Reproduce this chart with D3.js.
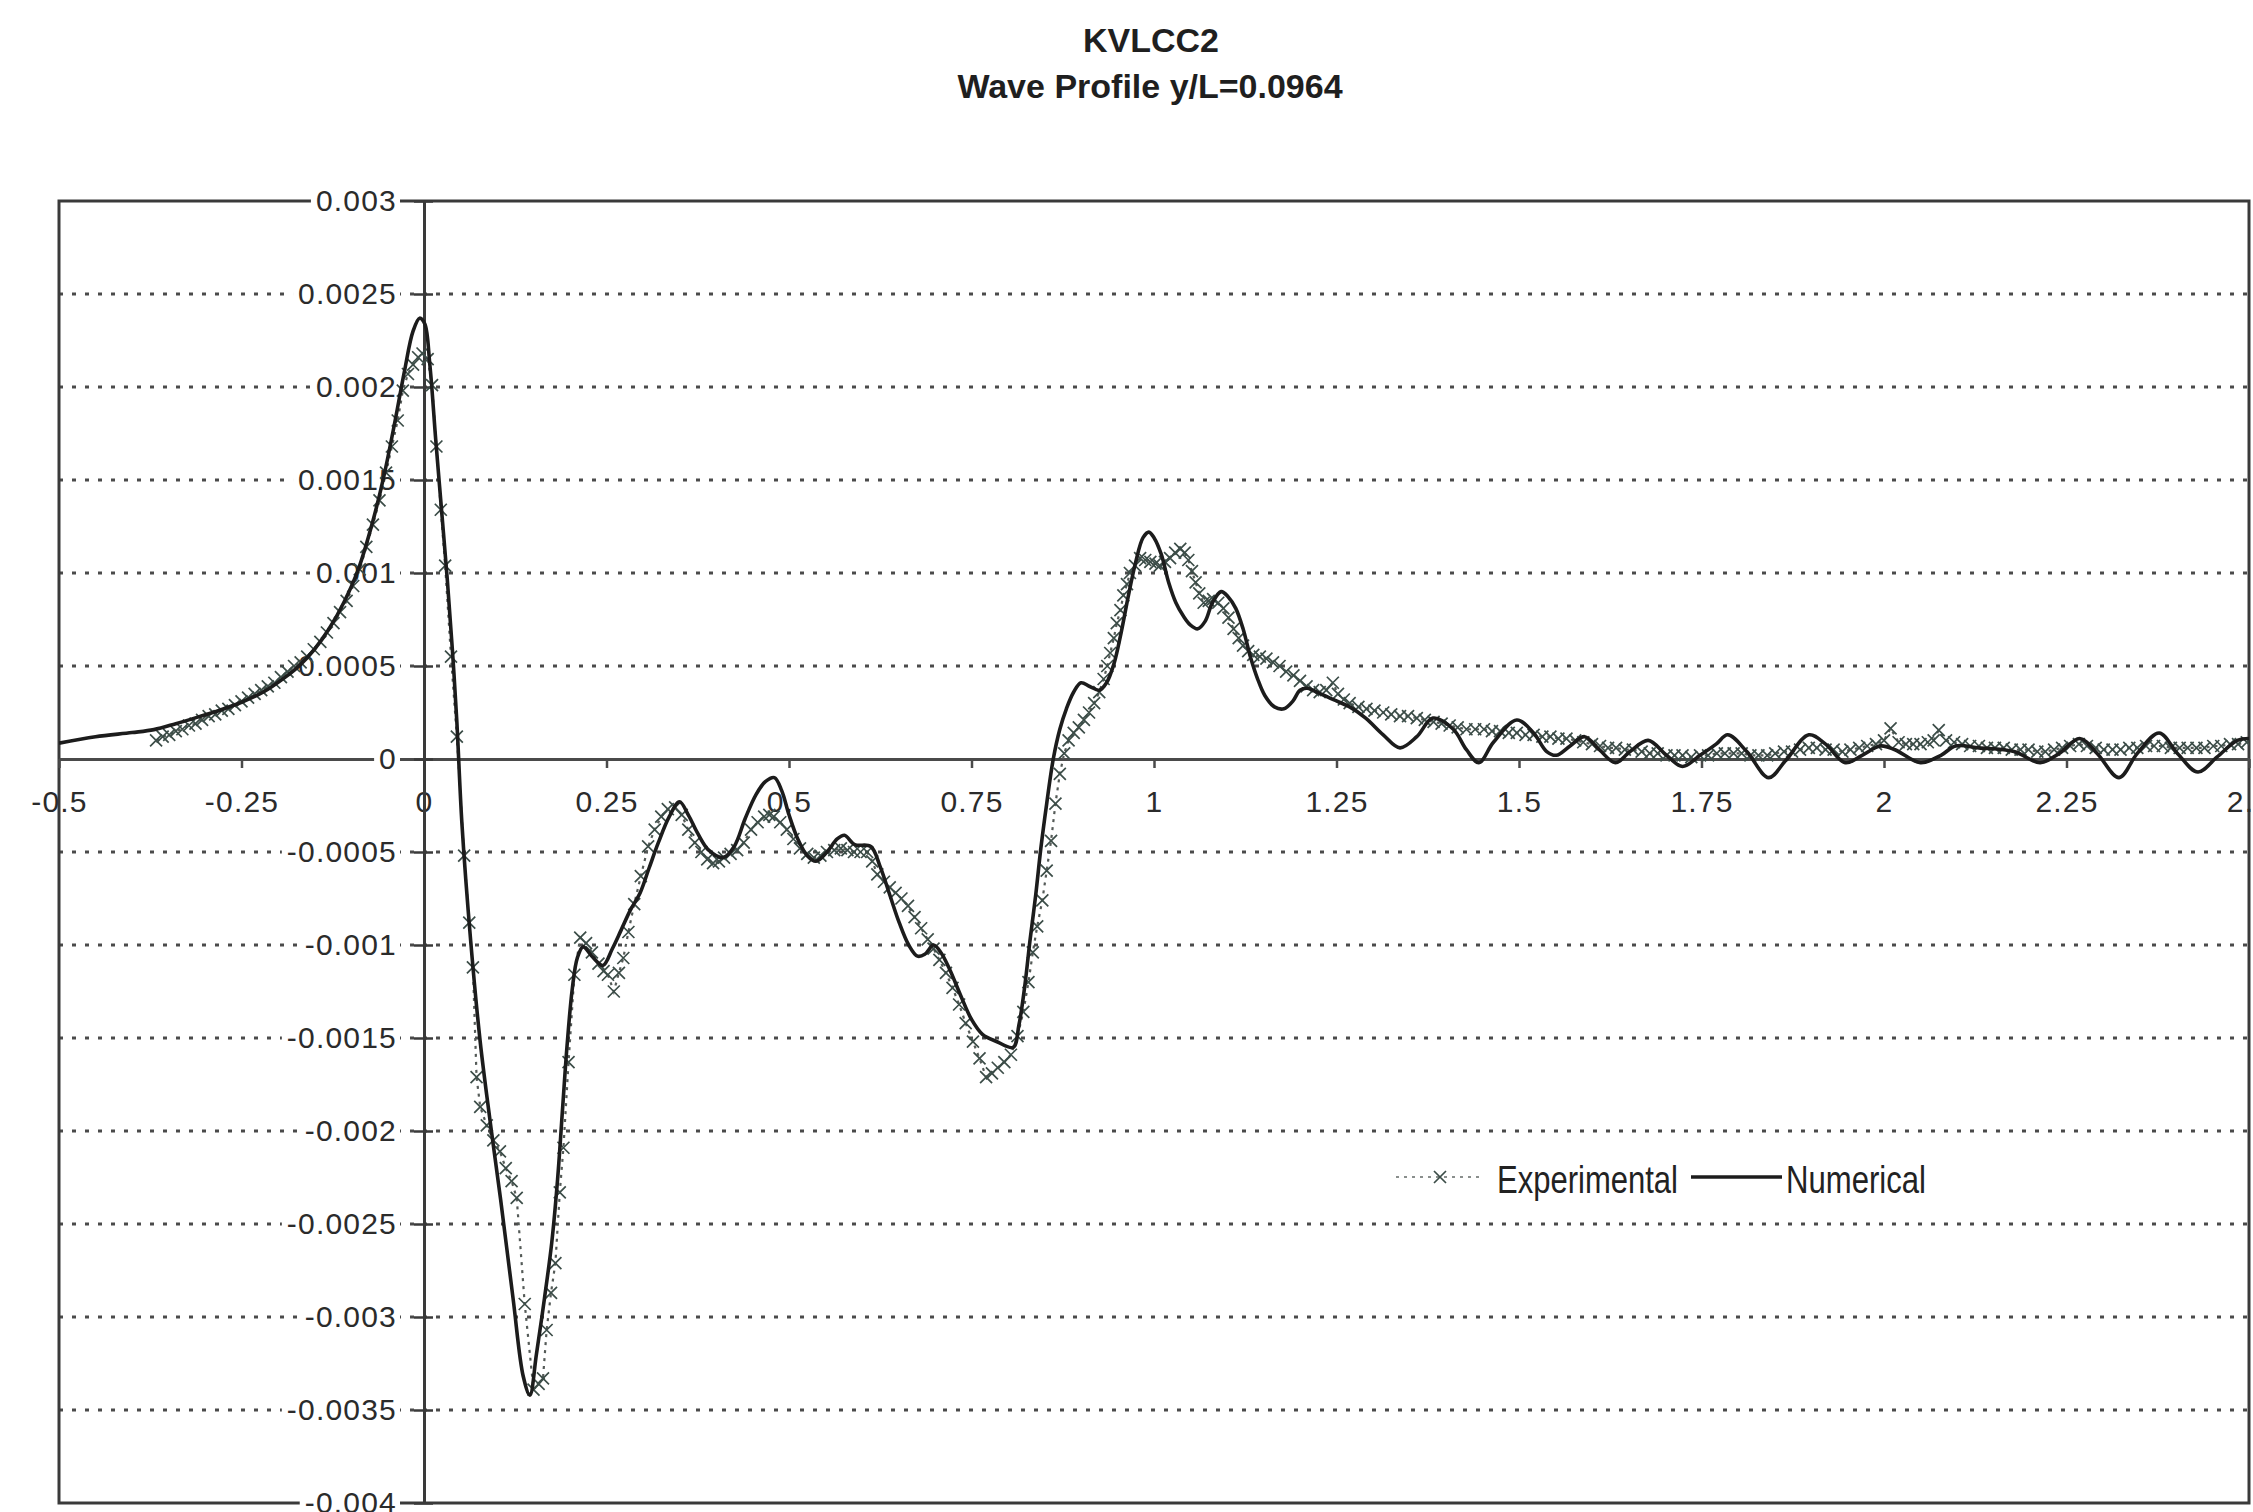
<!DOCTYPE html>
<html>
<head>
<meta charset="utf-8">
<script src="https://cdn.jsdelivr.net/npm/d3@7"></script>
<style>
  html, body { margin: 0; padding: 0; background: #ffffff; }
  svg { display: block; }
</style>
</head>
<body>
<svg id="chart" width="2253" height="1512"></svg>
<script>
// ---- chart text ----
const titleLines = ["KVLCC2", "Wave Profile y/L=0.0964"];
const seriesNames = ["Experimental", "Numerical"];

// ---- axis ticks ----
const xTicks = [-0.5, -0.25, 0, 0.25, 0.5, 0.75, 1, 1.25, 1.5, 1.75, 2, 2.25, 2.5];
const xTickLabels = ["-0.5", "-0.25", "0", "0.25", "0.5", "0.75", "1", "1.25", "1.5", "1.75", "2", "2.25", "2.5"];
const yTicks = [0.003, 0.0025, 0.002, 0.0015, 0.001, 0.0005, 0, -0.0005, -0.001, -0.0015, -0.002, -0.0025, -0.003, -0.0035, -0.004];
const yTickLabels = ["0.003", "0.0025", "0.002", "0.0015", "0.001", "0.0005", "0", "-0.0005", "-0.001", "-0.0015", "-0.002", "-0.0025", "-0.003", "-0.0035", "-0.004"];

// ---- measured wave elevation (x/L, z/L) ----
const experimental = [
  [-0.367,0.00010],[-0.358,0.00012],[-0.349,0.00013],[-0.34,0.00015],[-0.331,0.00016],[-0.322,0.00018],
  [-0.313,0.00019],[-0.304,0.00021],[-0.295,0.00023],[-0.286,0.00024],[-0.277,0.00026],[-0.268,0.00027],
  [-0.259,0.00029],[-0.25,0.00031],[-0.241,0.00033],[-0.232,0.00035],[-0.223,0.00037],[-0.214,0.00039],
  [-0.205,0.00041],[-0.196,0.00044],[-0.187,0.00047],[-0.178,0.0005],[-0.169,0.00052],[-0.16,0.00055],
  [-0.151,0.00059],[-0.142,0.00063],[-0.133,0.00068],[-0.124,0.00073],[-0.115,0.00079],[-0.106,0.00085],
  [-0.097,0.00093],[-0.088,0.00102],[-0.079,0.00114],[-0.07,0.00126],[-0.061,0.00139],[-0.052,0.00154],
  [-0.044,0.00168],[-0.036,0.00182],[-0.029,0.00198],[-0.022,0.00207],[-0.015,0.00212],[-0.008,0.00216],
  [-0.002,0.00218],[0.005,0.00215],[0.011,0.00201],[0.017,0.00168],[0.023,0.00134],[0.029,0.00104],
  [0.037,0.00055],[0.045,0.00012],[0.055,-0.00052],[0.062,-0.00088],[0.067,-0.00112],[0.072,-0.00171],
  [0.077,-0.00187],[0.086,-0.00197],[0.095,-0.00205],[0.104,-0.00211],[0.112,-0.0022],[0.12,-0.00227],
  [0.127,-0.00236],[0.138,-0.00293],[0.15,-0.00339],[0.157,-0.00336],[0.163,-0.00333],[0.168,-0.00307],
  [0.174,-0.00287],[0.18,-0.00271],[0.186,-0.00233],[0.191,-0.00209],[0.198,-0.00163],[0.206,-0.00116],
  [0.214,-0.00096],[0.222,-0.00099],[0.23,-0.00104],[0.239,-0.0011],[0.246,-0.00114],[0.252,-0.00116],
  [0.26,-0.00125],[0.267,-0.00115],[0.273,-0.00107],[0.28,-0.00093],[0.288,-0.00078],[0.297,-0.00063],
  [0.307,-0.00047],[0.316,-0.00038],[0.325,-0.00031],[0.334,-0.00027],[0.344,-0.00026],[0.353,-0.0003],
  [0.362,-0.00038],[0.371,-0.00045],[0.38,-0.0005],[0.388,-0.00054],[0.396,-0.00056],[0.404,-0.00055],
  [0.411,-0.00053],[0.42,-0.00051],[0.429,-0.00049],[0.438,-0.00045],[0.448,-0.00038],[0.457,-0.00034],
  [0.466,-0.00031],[0.473,-0.0003],[0.479,-0.00031],[0.488,-0.00034],[0.497,-0.00038],[0.506,-0.00043],
  [0.515,-0.00048],[0.525,-0.00051],[0.534,-0.00053],[0.543,-0.00052],[0.552,-0.0005],[0.562,-0.00049],
  [0.571,-0.00048],[0.58,-0.00049],[0.589,-0.0005],[0.598,-0.0005],[0.607,-0.0005],[0.614,-0.00055],
  [0.621,-0.00062],[0.63,-0.00066],[0.638,-0.00069],[0.646,-0.00072],[0.654,-0.00075],[0.663,-0.00079],
  [0.672,-0.00085],[0.681,-0.00091],[0.69,-0.00097],[0.698,-0.00102],[0.706,-0.00108],[0.715,-0.00115],
  [0.724,-0.00123],[0.733,-0.00132],[0.742,-0.00142],[0.752,-0.00152],[0.761,-0.00161],[0.77,-0.00171],
  [0.778,-0.00169],[0.786,-0.00166],[0.795,-0.00163],[0.804,-0.00159],[0.813,-0.00149],[0.821,-0.00136],
  [0.828,-0.0012],[0.834,-0.00104],[0.84,-0.0009],[0.847,-0.00076],[0.853,-0.0006],[0.859,-0.00044],
  [0.865,-0.00024],[0.871,-0.00008],[0.877,0.00003],[0.883,0.0001],[0.89,0.00014],[0.897,0.00017],
  [0.904,0.00021],[0.911,0.00025],[0.918,0.0003],[0.925,0.00036],[0.931,0.00043],[0.936,0.0005],
  [0.94,0.00057],[0.945,0.00065],[0.949,0.00073],[0.954,0.0008],[0.958,0.00088],[0.963,0.00094],
  [0.967,0.001],[0.974,0.00104],[0.981,0.00108],[0.988,0.00107],[0.995,0.00106],[1.002,0.00105],
  [1.008,0.00104],[1.015,0.00106],[1.022,0.00108],[1.029,0.00111],[1.036,0.00113],[1.042,0.00111],
  [1.047,0.00107],[1.052,0.00101],[1.057,0.00095],[1.062,0.00089],[1.068,0.00084],[1.075,0.00085],
  [1.081,0.00086],[1.088,0.00084],[1.095,0.00081],[1.102,0.00076],[1.109,0.0007],[1.116,0.00065],
  [1.122,0.00061],[1.129,0.00058],[1.136,0.00056],[1.145,0.00055],[1.154,0.00054],[1.163,0.00052],
  [1.172,0.0005],[1.181,0.00047],[1.191,0.00045],[1.2,0.00042],[1.209,0.00039],[1.218,0.00037],
  [1.227,0.00036],[1.236,0.00037],[1.245,0.00041],[1.252,0.00035],[1.26,0.00032],[1.268,0.0003],
  [1.28,0.00028],[1.291,0.00027],[1.302,0.00026],[1.314,0.00025],[1.325,0.00024],[1.337,0.00023],
  [1.348,0.00023],[1.36,0.00022],[1.371,0.00021],[1.383,0.0002],[1.394,0.00019],[1.405,0.00018],
  [1.416,0.00017],[1.428,0.00016],[1.44,0.00016],[1.452,0.00016],[1.463,0.00015],[1.474,0.00015],
  [1.486,0.00014],[1.497,0.00014],[1.509,0.00013],[1.52,0.00013],[1.532,0.00012],[1.543,0.00012],
  [1.554,0.00011],[1.565,0.00011],[1.577,0.0001],[1.588,0.00009],[1.6,0.00008],[1.611,0.00007],
  [1.622,0.00006],[1.633,0.00006],[1.645,0.00005],[1.656,0.00005],[1.668,0.00004],[1.679,0.00003],
  [1.69,0.00003],[1.702,0.00002],[1.713,0.00002],[1.724,0.00002],[1.736,0.00001],[1.748,0.00002],
  [1.759,0.00002],[1.771,0.00003],[1.782,0.00003],[1.794,0.00003],[1.805,0.00003],[1.817,0.00002],
  [1.828,0.00002],[1.84,0.00002],[1.851,0.00003],[1.863,0.00004],[1.874,0.00004],[1.885,0.00005],
  [1.897,0.00006],[1.908,0.00006],[1.92,0.00005],[1.931,0.00005],[1.943,0.00004],[1.954,0.00005],
  [1.966,0.00006],[1.977,0.00007],[1.989,0.00008],[2.0,0.0001],[2.009,0.000165],[2.02,0.00009],
  [2.03,0.00008],[2.04,0.00008],[2.05,0.00008],[2.06,0.00009],[2.068,0.0001],[2.075,0.000155],
  [2.085,0.0001],[2.096,0.00009],[2.107,0.00008],[2.118,0.00007],[2.13,0.00007],[2.141,0.00006],
  [2.152,0.00006],[2.164,0.00006],[2.175,0.00005],[2.187,0.00005],[2.198,0.00005],[2.21,0.00004],
  [2.221,0.00004],[2.233,0.00005],[2.244,0.00006],[2.255,0.00007],[2.267,0.00008],[2.278,0.00007],
  [2.29,0.00006],[2.301,0.00005],[2.313,0.00005],[2.324,0.00005],[2.336,0.00006],[2.347,0.00006],
  [2.359,0.00007],[2.37,0.00007],[2.382,0.00007],[2.393,0.00006],[2.405,0.00006],[2.416,0.00006],
  [2.428,0.00006],[2.439,0.00006],[2.451,0.00007],[2.462,0.00007],[2.474,0.00008],[2.485,0.00008],
  [2.497,0.00009]
];

// ---- computed wave elevation (x/L, z/L) ----
const numerical = [
  [-0.5,0.000085],[-0.45,0.00012],[-0.4,0.000142],[-0.37,0.000158],[-0.34,0.00019],[-0.31,0.000225],
  [-0.28,0.000262],[-0.25,0.000305],[-0.22,0.00036],[-0.19,0.00044],[-0.17,0.000505],[-0.15,0.00059],
  [-0.13,0.0007],[-0.11,0.00084],[-0.09,0.00102],[-0.07,0.00128],[-0.055,0.00152],[-0.04,0.00181],
  [-0.027,0.00208],[-0.015,0.0023],[-0.006,0.00237],[0.001,0.00234],[0.008,0.00212],[0.016,0.00172],
  [0.024,0.00134],[0.032,0.00096],[0.039,0.00058],[0.045,0.0002],[0.052,-0.00035],[0.064,-0.00098],
  [0.077,-0.00152],[0.09,-0.00193],[0.105,-0.00237],[0.122,-0.0029],[0.136,-0.00332],[0.145,-0.00342],
  [0.154,-0.0032],[0.165,-0.0029],[0.175,-0.0026],[0.183,-0.00226],[0.19,-0.00187],[0.196,-0.00154],
  [0.203,-0.00124],[0.21,-0.00107],[0.218,-0.00101],[0.23,-0.00106],[0.245,-0.00111],[0.258,-0.00102],
  [0.27,-0.00092],[0.283,-0.00081],[0.296,-0.00072],[0.308,-0.00059],[0.321,-0.00045],[0.336,-0.00031],
  [0.35,-0.00023],[0.362,-0.0003],[0.375,-0.0004],[0.39,-0.00049],[0.41,-0.00053],[0.425,-0.00047],
  [0.44,-0.00032],[0.455,-0.00019],[0.468,-0.00012],[0.48,-0.0001],[0.49,-0.00017],[0.5,-0.0003],
  [0.512,-0.00043],[0.525,-0.00052],[0.537,-0.00055],[0.552,-0.0005],[0.566,-0.00043],[0.576,-0.00041],
  [0.59,-0.00046],[0.612,-0.00047],[0.625,-0.00058],[0.638,-0.00073],[0.651,-0.00088],[0.664,-0.001],
  [0.676,-0.00106],[0.686,-0.00105],[0.698,-0.001],[0.708,-0.00104],[0.72,-0.00113],[0.735,-0.00127],
  [0.75,-0.0014],[0.765,-0.00148],[0.785,-0.00152],[0.807,-0.00155],[0.815,-0.00143],[0.823,-0.00122],
  [0.83,-0.00098],[0.838,-0.00073],[0.845,-0.00048],[0.853,-0.00024],[0.862,0.0],[0.871,0.00016],
  [0.88,0.00027],[0.89,0.00036],[0.9,0.00041],[0.912,0.00039],[0.925,0.00037],[0.935,0.00041],
  [0.945,0.00051],[0.955,0.00068],[0.965,0.00088],[0.975,0.00106],[0.985,0.00119],[0.993,0.00122],
  [1.0,0.00119],[1.01,0.0011],[1.02,0.00095],[1.03,0.00084],[1.04,0.00077],[1.05,0.00072],
  [1.06,0.0007],[1.07,0.00074],[1.08,0.00084],[1.092,0.0009],[1.102,0.00087],[1.112,0.00081],
  [1.122,0.0007],[1.132,0.00055],[1.142,0.00043],[1.152,0.00034],[1.165,0.00028],[1.178,0.00027],
  [1.19,0.00031],[1.2,0.00037],[1.21,0.00038],[1.223,0.00036],[1.245,0.00032],[1.268,0.00028],
  [1.29,0.00022],[1.314,0.00013],[1.337,0.00006],[1.36,0.00012],[1.382,0.00022],[1.41,0.00016],
  [1.428,0.00005],[1.445,-0.00002],[1.465,0.00009],[1.497,0.00021],[1.52,0.00014],[1.538,0.00004],
  [1.551,0.00002],[1.57,0.00007],[1.59,0.00012],[1.61,0.00005],[1.632,-0.00002],[1.652,0.00004],
  [1.677,0.0001],[1.702,0.00002],[1.724,-0.00004],[1.748,0.00002],[1.77,0.00008],[1.786,0.00013],
  [1.812,0.00004],[1.842,-0.0001],[1.865,-0.00001],[1.897,0.00013],[1.92,0.00008],[1.947,-0.00002],
  [1.97,0.00002],[1.995,0.00007],[2.015,0.00005],[2.05,-0.00002],[2.078,0.00002],[2.098,0.00007],
  [2.13,0.00006],[2.178,0.00004],[2.214,-0.00002],[2.24,0.00003],[2.268,0.00011],[2.292,0.00003],
  [2.322,-0.0001],[2.347,0.00003],[2.377,0.00014],[2.402,0.00003],[2.43,-0.00007],[2.456,0.00001],
  [2.484,0.0001],[2.5,0.00011]
];

// ---- layout ----
const svg = d3.select("#chart");
const plot = { left: 59, right: 2249, top: 201, bottom: 1503 };
const tickFont = "'Liberation Sans', Arial, Helvetica, sans-serif";
const ink = "#2b2b2b";
const markerColor = "#3c4d48";

svg.append("rect").attr("width", 2253).attr("height", 1512).attr("fill", "#ffffff");

const x = d3.scaleLinear().domain([-0.5, 2.5]).range([plot.left, plot.right]);
const y = d3.scaleLinear().domain([-0.004, 0.003]).range([plot.bottom, plot.top]);

// title
const title = svg.append("g")
  .attr("font-family", tickFont)
  .attr("font-weight", "bold")
  .attr("font-size", 34)
  .attr("fill", "#1f1f1f")
  .attr("text-anchor", "middle");
title.append("text").attr("x", 1151).attr("y", 52).text(titleLines[0]);
title.append("text").attr("x", 1150).attr("y", 98).text(titleLines[1]);

// dotted horizontal gridlines
svg.append("g")
  .selectAll("line")
  .data(yTicks.filter(v => v !== 0 && v !== 0.003 && v !== -0.004))
  .join("line")
  .attr("x1", plot.left).attr("x2", plot.right)
  .attr("y1", d => y(d)).attr("y2", d => y(d))
  .attr("stroke", "#4a4a4a")
  .attr("stroke-width", 3)
  .attr("stroke-dasharray", "4 9");

// plot frame
svg.append("rect")
  .attr("x", plot.left).attr("y", plot.top)
  .attr("width", plot.right - plot.left).attr("height", plot.bottom - plot.top)
  .attr("fill", "none").attr("stroke", "#3a3a3a").attr("stroke-width", 3);

// x axis along z = 0
const xAxis = d3.axisBottom(x)
  .tickValues(xTicks)
  .tickFormat((d, i) => xTickLabels[i])
  .tickSize(9)
  .tickSizeOuter(0)
  .tickPadding(23);
const gx = svg.append("g").attr("transform", `translate(0,${y(0)})`).call(xAxis);
gx.select(".domain").attr("stroke", "#4a4a4a").attr("stroke-width", 3);
gx.selectAll(".tick line").attr("stroke", "#4a4a4a").attr("stroke-width", 2.5);
gx.selectAll(".tick text")
  .attr("font-family", tickFont).attr("font-size", 30)
  .attr("letter-spacing", 1.2).attr("fill", ink);

// y axis along x = 0
const yAxis = d3.axisLeft(y)
  .tickValues(yTicks)
  .tickFormat((d, i) => yTickLabels[i])
  .tickSize(10)
  .tickSizeOuter(0)
  .tickPadding(17);
const gy = svg.append("g").attr("transform", `translate(${x(0)},0)`).call(yAxis);
gy.select(".domain").attr("stroke", "#3a3a3a").attr("stroke-width", 3);
gy.selectAll(".tick line").attr("x1", 9).attr("stroke", "#3a3a3a").attr("stroke-width", 2.5);
gy.selectAll(".tick text")
  .attr("font-family", tickFont).attr("font-size", 30)
  .attr("letter-spacing", 1.2).attr("fill", ink);
// white boxes behind the value labels interrupt the gridlines
gy.selectAll(".tick").each(function () {
  const t = d3.select(this).select("text");
  const b = t.node().getBBox();
  d3.select(this).insert("rect", "text")
    .attr("x", b.x - 5).attr("y", b.y + 4)
    .attr("width", b.width + 8).attr("height", b.height - 8)
    .attr("fill", "#ffffff");
});

// data layer clipped to the plot frame
svg.append("clipPath").attr("id", "plot-clip")
  .append("rect")
  .attr("x", plot.left).attr("y", plot.top)
  .attr("width", plot.right - plot.left).attr("height", plot.bottom - plot.top);
const layer = svg.append("g").attr("clip-path", "url(#plot-clip)");

const crossPath = s => `M${-s},${-s}L${s},${s}M${-s},${s}L${s},${-s}`;

// experimental: dotted connector + x markers
layer.append("path")
  .datum(experimental)
  .attr("d", d3.line().x(d => x(d[0])).y(d => y(d[1])))
  .attr("fill", "none")
  .attr("stroke", "#555b58")
  .attr("stroke-width", 2.2)
  .attr("stroke-dasharray", "3 5");
layer.append("g")
  .selectAll("path")
  .data(experimental)
  .join("path")
  .attr("transform", d => `translate(${x(d[0])},${y(d[1])})`)
  .attr("d", crossPath(6))
  .attr("fill", "none")
  .attr("stroke", markerColor)
  .attr("stroke-width", 1.7);

// numerical: solid smooth line on top
layer.append("path")
  .datum(numerical)
  .attr("d", d3.line().curve(d3.curveCatmullRom.alpha(0.5)).x(d => x(d[0])).y(d => y(d[1])))
  .attr("fill", "none")
  .attr("stroke", "#1c1c1c")
  .attr("stroke-width", 3.6)
  .attr("stroke-linejoin", "round");

// legend
const legend = svg.append("g").attr("font-family", tickFont).attr("font-size", 38).attr("fill", "#222");
const ly = 1177;
legend.append("line")
  .attr("x1", 1396).attr("x2", 1480).attr("y1", ly).attr("y2", ly)
  .attr("stroke", "#8a8f8d").attr("stroke-width", 2.2).attr("stroke-dasharray", "3 5");
legend.append("path")
  .attr("transform", `translate(1440,${ly})`)
  .attr("d", crossPath(6))
  .attr("fill", "none").attr("stroke", markerColor).attr("stroke-width", 1.7);
legend.append("text")
  .attr("x", 1497).attr("y", 1193)
  .attr("textLength", 181).attr("lengthAdjust", "spacingAndGlyphs")
  .text(seriesNames[0]);
legend.append("line")
  .attr("x1", 1691).attr("x2", 1782).attr("y1", ly).attr("y2", ly)
  .attr("stroke", "#1c1c1c").attr("stroke-width", 3.6);
legend.append("text")
  .attr("x", 1786).attr("y", 1193)
  .attr("textLength", 140).attr("lengthAdjust", "spacingAndGlyphs")
  .text(seriesNames[1]);
</script>
</body>
</html>
